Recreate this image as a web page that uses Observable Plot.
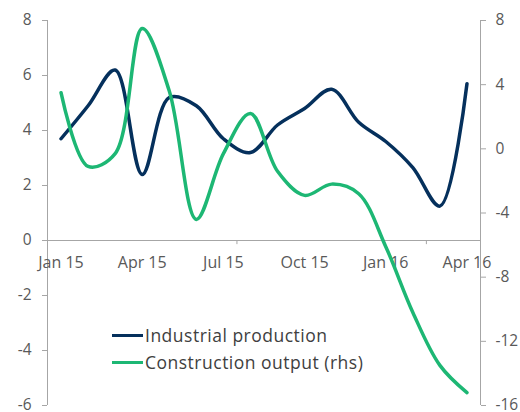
<!DOCTYPE html>
<html><head><meta charset="utf-8">
<script src="https://cdn.jsdelivr.net/npm/d3@7"></script>
<script src="https://cdn.jsdelivr.net/npm/@observablehq/plot@0.6"></script>
<style>
body{margin:0;background:#fff;}
#wrap{position:relative;width:520px;height:412px;}
.legend{position:absolute;left:112px;top:322px;font-family:"Open Sans",sans-serif;font-size:17.5px;letter-spacing:0.5px;color:#404040;line-height:27px;}
.row{display:flex;align-items:center;white-space:nowrap;}
.sw{width:31px;height:3.5px;margin-right:2px;}
</style>
</head><body>
<div id="wrap"></div>
<script>
const months = ["Jan 15","Feb 15","Mar 15","Apr 15","May 15","Jun 15","Jul 15","Aug 15","Sep 15","Oct 15","Nov 15","Dec 15","Jan 16","Feb 16","Mar 16","Apr 16"];
const industrial = [3.7, 4.9, 6.2, 2.4, 5.2, 4.9, 3.7, 3.2, 4.2, 4.8, 5.5, 4.3, 3.6, 2.65, 1.25, 5.7];
const construction = [3.5, -1.1, -0.3, 7.5, 3.6, -4.4, -0.3, 2.2, -1.4, -2.9, -2.2, -2.8, -6.1, -10.2, -13.5, -15.2];
const leftTicks = [-6, -4, -2, 0, 2, 4, 6, 8];
const rightTicks = [-16, -12, -8, -4, 0, 4, 8];
const quarterLabels = ["Jan 15","Apr 15","Jul 15","Oct 15","Jan 16","Apr 16"];
const tickMonths = [-0.5, 6.5, 13.5];
const seriesNames = ["Industrial production", "Construction output (rhs)"];
const colors = ["#05305c", "#1db774"];

const leftDomain = [-6, 8], rightDomain = [-16, 8];
const toLeft = v => leftDomain[0] + (v - rightDomain[0]) * (leftDomain[1] - leftDomain[0]) / (rightDomain[1] - rightDomain[0]);
const fromLeft = y => rightDomain[0] + (y - leftDomain[0]) * (rightDomain[1] - rightDomain[0]) / (leftDomain[1] - leftDomain[0]);

const ip = industrial.map((v, i) => ({i, v}));
const co = construction.map((v, i) => ({i, v: toLeft(v)}));
const qLab = quarterLabels.map(l => ({i: months.indexOf(l), l}));

const grey = "#a6a6a6", txt = "#595959";
const chart = Plot.plot({
  width: 520, height: 412,
  marginLeft: 47, marginRight: 40, marginTop: 20, marginBottom: 7,
  x: {domain: [-0.5, 15.5], axis: null},
  y: {domain: leftDomain, axis: null},
  style: {fontFamily: "Open Sans, sans-serif", fontSize: "15px", color: txt, background: "#fff"},
  marks: [
    Plot.ruleX([-0.5, 15.5], {stroke: grey, strokeWidth: 1}),
    Plot.ruleY([0], {stroke: grey, strokeWidth: 1}),
    Plot.ruleX(tickMonths.slice(1), {y1: 0, y2: -0.15, stroke: grey}),
    Plot.axisY({anchor: "left", ticks: leftTicks, tickSize: 5, tickPadding: 11, stroke: grey, fill: txt, label: null, fontSize: 15.5, tickFormat: d => d}),
    Plot.axisY({anchor: "right", ticks: rightTicks.map(toLeft), tickSize: 5, tickPadding: 10, stroke: grey, fill: txt, label: null, fontSize: 15.5, tickFormat: d => Math.round(fromLeft(d))}),
    Plot.text(qLab, {x: "i", y: 0, text: "l", dy: 22, fill: txt, fontSize: 16, style: "letter-spacing:0.3px"}),
    Plot.line(ip, {x: "i", y: "v", stroke: colors[0], strokeWidth: 3.5, curve: "catmull-rom"}),
    Plot.line(co, {x: "i", y: "v", stroke: colors[1], strokeWidth: 3.5, curve: "catmull-rom"})
  ]
});
const wrap = document.getElementById("wrap");
wrap.appendChild(chart);
const leg = document.createElement("div");
leg.className = "legend";
seriesNames.forEach((n, k) => {
  const r = document.createElement("div"); r.className = "row";
  const s = document.createElement("span"); s.className = "sw"; s.style.background = colors[k];
  const t = document.createElement("span"); t.textContent = n;
  r.appendChild(s); r.appendChild(t); leg.appendChild(r);
});
wrap.appendChild(leg);
</script>
</body></html>
